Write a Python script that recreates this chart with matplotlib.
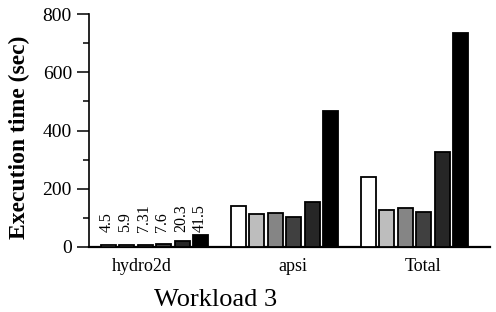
import matplotlib
matplotlib.use("Agg")
import matplotlib.pyplot as plt
import numpy as np

categories = ["hydro2d", "apsi", "Total"]
series = [
    [4.5, 139, 239],
    [5.9, 111, 125],
    [7.31, 116, 132],
    [7.6, 101, 120],
    [20.3, 153, 326],
    [41.5, 467, 734],
]
colors = ["#ffffff", "#bdbdbd", "#858585", "#404040", "#262626", "#000000"]
hydro_labels = ["4.5", "5.9", "7.31", "7.6", "20.3", "41.5"]

plt.rcParams['font.family'] = ['Liberation Serif', 'DejaVu Serif']

fig = plt.figure(figsize=(4.96, 3.12), dpi=100)
ax = fig.add_axes([0.180, 0.2093, 0.808, 0.7448])

n = len(series)
pitch = 0.1423
width = 0.115
x = np.arange(len(categories))
for i, vals in enumerate(series):
    off = (i - (n - 1) / 2) * pitch
    ax.bar(x + off, vals, width, color=colors[i], edgecolor="black", linewidth=1.3, zorder=3)
    ax.text(x[0] + off - 0.01, 50, hydro_labels[i], rotation=90, ha="center", va="bottom",
            fontsize=11.5)

ax.set_xlim(-0.50, 2.58)
ax.set_ylim(0, 800)
ax.set_yticks([0, 200, 400, 600, 800])
ax.set_yticks([100, 300, 500, 700], minor=True)
ax.set_xticks([x[0] - 0.098, x[1] + 0.068, x[2] + 0.068])
ax.set_xticklabels(categories, fontsize=13)
ax.tick_params(axis="x", length=0, pad=8)
ax.tick_params(axis="y", which="major", length=8.5, width=1.1, labelsize=14, pad=4)
ax.tick_params(axis="y", which="minor", length=4, width=1.1)
for s in ["top", "right"]:
    ax.spines[s].set_visible(False)
ax.spines["left"].set_linewidth(1.2)
ax.spines["bottom"].set_linewidth(1.6)

ax.set_ylabel("Execution time (sec)", fontsize=17, fontweight="bold")
ax.yaxis.set_label_coords(-0.148, 0.47)
fig.text(216 / 496, 1 - 300 / 312, "Workload 3", fontsize=19, ha="center", va="center")

fig.savefig("out.png", dpi=100)
